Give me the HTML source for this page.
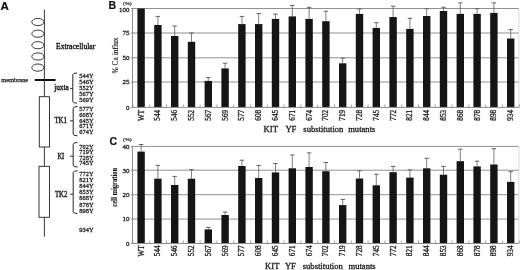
<!DOCTYPE html>
<html><head><meta charset="utf-8">
<style>
html,body{margin:0;padding:0;background:#fff;}
body{width:520px;height:270px;overflow:hidden;}
svg{display:block;will-change:transform;filter:blur(0.3px);}
text{font-family:"Liberation Serif",serif;fill:#1a1a1a;stroke:#1a1a1a;stroke-width:0.28px;}
.lt{font-family:"Liberation Sans",sans-serif;font-weight:bold;font-size:10.5px;fill:#111;stroke-width:0.2px;stroke:#111;}
.yl{font-size:7px;}
.xl{font-size:7.2px;stroke-width:0.3px;}
.xt{font-size:8.6px;stroke-width:0.3px;}
.yt{font-size:7.2px;stroke-width:0.12px;}
.yt2{font-size:7.5px;font-weight:bold;stroke-width:0.1px;}
.pc{font-size:5.0px;stroke-width:0.2px;}
.sm{font-size:6.4px;stroke-width:0.26px;}
.md{font-size:7.6px;stroke-width:0.38px;}
</style></head>
<body>
<svg width="520" height="270" viewBox="0 0 520 270">
<rect width="520" height="270" fill="#fff"/>
<text x="0.6" y="9.6" class="lt" style="font-size:11.5px">A</text>
<line x1="44.4" y1="9.6" x2="44.4" y2="96.7" stroke="#222" stroke-width="0.9"/>
<ellipse cx="37.9" cy="22" rx="6.1" ry="3.6" fill="none" stroke="#222" stroke-width="0.9"/>
<ellipse cx="37.9" cy="33.7" rx="6.1" ry="3.6" fill="none" stroke="#222" stroke-width="0.9"/>
<ellipse cx="37.9" cy="45.2" rx="6.1" ry="3.6" fill="none" stroke="#222" stroke-width="0.9"/>
<ellipse cx="37.9" cy="56.5" rx="6.1" ry="3.6" fill="none" stroke="#222" stroke-width="0.9"/>
<ellipse cx="37.9" cy="67.6" rx="6.1" ry="3.6" fill="none" stroke="#222" stroke-width="0.9"/>
<rect x="34.8" y="79" width="20.8" height="2" fill="#111"/>
<text x="1.2" y="81.6" class="sm" style="stroke-width:0.25px;fill:#1a1a1a">membrane</text>
<text x="56" y="48.8" class="md">Extracellular</text>
<rect x="39.3" y="96.7" width="10.2" height="50.3" fill="none" stroke="#222" stroke-width="0.9"/>
<line x1="44.4" y1="147" x2="44.4" y2="166.3" stroke="#222" stroke-width="0.9"/>
<rect x="39.0" y="166.3" width="10.5" height="51" fill="none" stroke="#222" stroke-width="0.9"/>
<line x1="44.4" y1="217.3" x2="44.4" y2="236.7" stroke="#222" stroke-width="0.9"/>
<text x="54.2" y="89.9" class="md" style="font-size:7.3px">juxta</text>
<text x="54.4" y="123.3" class="md" style="font-size:7.7px" textLength="12.6" lengthAdjust="spacingAndGlyphs">TK1</text>
<text x="57.4" y="158.6" class="md" style="font-size:7.7px" textLength="6.9" lengthAdjust="spacingAndGlyphs">KI</text>
<text x="54.9" y="196.5" class="md" style="font-size:7.7px" textLength="12.6" lengthAdjust="spacingAndGlyphs">TK2</text>
<path d="M77.1,73.0 Q72.8,73.0 72.8,74.8 L72.8,101.4 Q72.8,103.2 77.1,103.2" fill="none" stroke="#1a1a1a" stroke-width="0.95"/>
<line x1="70.0" y1="88.4" x2="72.8" y2="88.4" stroke="#1a1a1a" stroke-width="0.9"/>
<path d="M77.5,106.5 Q73.2,106.5 73.2,108.3 L73.2,134.0 Q73.2,135.8 77.5,135.8" fill="none" stroke="#1a1a1a" stroke-width="0.95"/>
<line x1="70.0" y1="120.8" x2="73.2" y2="120.8" stroke="#1a1a1a" stroke-width="0.9"/>
<path d="M77.5,142.5 Q73.2,142.5 73.2,144.3 L73.2,165.2 Q73.2,167.0 77.5,167.0" fill="none" stroke="#1a1a1a" stroke-width="0.95"/>
<line x1="70.0" y1="156.2" x2="73.2" y2="156.2" stroke="#1a1a1a" stroke-width="0.9"/>
<path d="M77.5,170.8 Q73.2,170.8 73.2,172.60000000000002 L73.2,211.7 Q73.2,213.5 77.5,213.5" fill="none" stroke="#1a1a1a" stroke-width="0.95"/>
<line x1="70.0" y1="194.2" x2="73.2" y2="194.2" stroke="#1a1a1a" stroke-width="0.9"/>
<text x="79.3" y="78.2" class="sm">544Y</text>
<text x="79.3" y="84.2" class="sm">546Y</text>
<text x="79.3" y="90.2" class="sm">552Y</text>
<text x="79.3" y="96.2" class="sm">567Y</text>
<text x="79.3" y="102.2" class="sm">569Y</text>
<text x="79.3" y="111.3" class="sm">577Y</text>
<text x="79.3" y="117.0" class="sm">608Y</text>
<text x="79.3" y="122.7" class="sm">645Y</text>
<text x="79.3" y="128.4" class="sm">671Y</text>
<text x="79.3" y="134.1" class="sm">674Y</text>
<text x="79.3" y="148.8" class="sm">702Y</text>
<text x="79.3" y="154.2" class="sm">719Y</text>
<text x="79.3" y="159.7" class="sm">728Y</text>
<text x="79.3" y="165.1" class="sm">745Y</text>
<text x="79.3" y="176.3" class="sm">772Y</text>
<text x="79.3" y="182.3" class="sm">821Y</text>
<text x="79.3" y="188.4" class="sm">844Y</text>
<text x="79.3" y="194.4" class="sm">853Y</text>
<text x="79.3" y="200.4" class="sm">868Y</text>
<text x="79.3" y="206.5" class="sm">878Y</text>
<text x="79.3" y="212.5" class="sm">898Y</text>
<text x="79.3" y="231.5" class="sm">934Y</text>
<line x1="132.5" y1="8.5" x2="518.8" y2="8.5" stroke="#909090" stroke-width="1"/>
<line x1="132.5" y1="33" x2="518.8" y2="33" stroke="#909090" stroke-width="1"/>
<line x1="132.5" y1="57.8" x2="518.8" y2="57.8" stroke="#909090" stroke-width="1"/>
<line x1="132.5" y1="82" x2="518.8" y2="82" stroke="#909090" stroke-width="1"/>
<line x1="518.8" y1="8.5" x2="518.8" y2="107.4" stroke="#d0d0d0" stroke-width="0.8"/>
<line x1="132.5" y1="8.5" x2="132.5" y2="107.4" stroke="#8c8c8c" stroke-width="1"/>
<line x1="131.0" y1="8.5" x2="133.5" y2="8.5" stroke="#8c8c8c" stroke-width="1"/>
<line x1="131.0" y1="33" x2="133.5" y2="33" stroke="#8c8c8c" stroke-width="1"/>
<line x1="131.0" y1="57.8" x2="133.5" y2="57.8" stroke="#8c8c8c" stroke-width="1"/>
<line x1="131.0" y1="82" x2="133.5" y2="82" stroke="#8c8c8c" stroke-width="1"/>
<line x1="131.0" y1="107.4" x2="133.5" y2="107.4" stroke="#8c8c8c" stroke-width="1"/>
<rect x="137.40" y="8.5" width="7.4" height="98.90" fill="#151515"/>
<line x1="157.90" y1="16.4" x2="157.90" y2="25" stroke="#606060" stroke-width="0.8"/>
<line x1="155.70" y1="16.4" x2="160.10" y2="16.4" stroke="#606060" stroke-width="1"/>
<rect x="154.20" y="25" width="7.4" height="82.40" fill="#151515"/>
<line x1="174.70" y1="26" x2="174.70" y2="36" stroke="#606060" stroke-width="0.8"/>
<line x1="172.50" y1="26" x2="176.90" y2="26" stroke="#606060" stroke-width="1"/>
<rect x="171.00" y="36" width="7.4" height="71.40" fill="#151515"/>
<line x1="191.50" y1="33" x2="191.50" y2="41.8" stroke="#606060" stroke-width="0.8"/>
<line x1="189.30" y1="33" x2="193.70" y2="33" stroke="#606060" stroke-width="1"/>
<rect x="187.80" y="41.8" width="7.4" height="65.60" fill="#151515"/>
<line x1="208.30" y1="77.6" x2="208.30" y2="80.9" stroke="#606060" stroke-width="0.8"/>
<line x1="206.10" y1="77.6" x2="210.50" y2="77.6" stroke="#606060" stroke-width="1"/>
<rect x="204.60" y="80.9" width="7.4" height="26.50" fill="#151515"/>
<line x1="225.10" y1="63.2" x2="225.10" y2="68.4" stroke="#606060" stroke-width="0.8"/>
<line x1="222.90" y1="63.2" x2="227.30" y2="63.2" stroke="#606060" stroke-width="1"/>
<rect x="221.40" y="68.4" width="7.4" height="39.00" fill="#151515"/>
<line x1="241.90" y1="16.4" x2="241.90" y2="24.1" stroke="#606060" stroke-width="0.8"/>
<line x1="239.70" y1="16.4" x2="244.10" y2="16.4" stroke="#606060" stroke-width="1"/>
<rect x="238.20" y="24.1" width="7.4" height="83.30" fill="#151515"/>
<line x1="258.70" y1="13.5" x2="258.70" y2="24.1" stroke="#606060" stroke-width="0.8"/>
<line x1="256.50" y1="13.5" x2="260.90" y2="13.5" stroke="#606060" stroke-width="1"/>
<rect x="255.00" y="24.1" width="7.4" height="83.30" fill="#151515"/>
<line x1="275.50" y1="14.1" x2="275.50" y2="18.9" stroke="#606060" stroke-width="0.8"/>
<line x1="273.30" y1="14.1" x2="277.70" y2="14.1" stroke="#606060" stroke-width="1"/>
<rect x="271.80" y="18.9" width="7.4" height="88.50" fill="#151515"/>
<line x1="292.30" y1="5.4" x2="292.30" y2="16.4" stroke="#606060" stroke-width="0.8"/>
<line x1="290.10" y1="5.4" x2="294.50" y2="5.4" stroke="#606060" stroke-width="1"/>
<rect x="288.60" y="16.4" width="7.4" height="91.00" fill="#151515"/>
<line x1="309.10" y1="7.3" x2="309.10" y2="18.9" stroke="#606060" stroke-width="0.8"/>
<line x1="306.90" y1="7.3" x2="311.30" y2="7.3" stroke="#606060" stroke-width="1"/>
<rect x="305.40" y="18.9" width="7.4" height="88.50" fill="#151515"/>
<line x1="325.90" y1="11.2" x2="325.90" y2="21.2" stroke="#606060" stroke-width="0.8"/>
<line x1="323.70" y1="11.2" x2="328.10" y2="11.2" stroke="#606060" stroke-width="1"/>
<rect x="322.20" y="21.2" width="7.4" height="86.20" fill="#151515"/>
<line x1="342.70" y1="58.1" x2="342.70" y2="63.3" stroke="#606060" stroke-width="0.8"/>
<line x1="340.50" y1="58.1" x2="344.90" y2="58.1" stroke="#606060" stroke-width="1"/>
<rect x="339.00" y="63.3" width="7.4" height="44.10" fill="#151515"/>
<line x1="359.50" y1="9" x2="359.50" y2="13.9" stroke="#606060" stroke-width="0.8"/>
<line x1="357.30" y1="9" x2="361.70" y2="9" stroke="#606060" stroke-width="1"/>
<rect x="355.80" y="13.9" width="7.4" height="93.50" fill="#151515"/>
<line x1="376.30" y1="22.7" x2="376.30" y2="27.9" stroke="#606060" stroke-width="0.8"/>
<line x1="374.10" y1="22.7" x2="378.50" y2="22.7" stroke="#606060" stroke-width="1"/>
<rect x="372.60" y="27.9" width="7.4" height="79.50" fill="#151515"/>
<line x1="393.10" y1="6.2" x2="393.10" y2="17" stroke="#606060" stroke-width="0.8"/>
<line x1="390.90" y1="6.2" x2="395.30" y2="6.2" stroke="#606060" stroke-width="1"/>
<rect x="389.40" y="17" width="7.4" height="90.40" fill="#151515"/>
<line x1="409.90" y1="18.3" x2="409.90" y2="28.9" stroke="#606060" stroke-width="0.8"/>
<line x1="407.70" y1="18.3" x2="412.10" y2="18.3" stroke="#606060" stroke-width="1"/>
<rect x="406.20" y="28.9" width="7.4" height="78.50" fill="#151515"/>
<line x1="426.70" y1="8.7" x2="426.70" y2="16" stroke="#606060" stroke-width="0.8"/>
<line x1="424.50" y1="8.7" x2="428.90" y2="8.7" stroke="#606060" stroke-width="1"/>
<rect x="423.00" y="16" width="7.4" height="91.40" fill="#151515"/>
<line x1="443.50" y1="7.3" x2="443.50" y2="11" stroke="#606060" stroke-width="0.8"/>
<line x1="441.30" y1="7.3" x2="445.70" y2="7.3" stroke="#606060" stroke-width="1"/>
<rect x="439.80" y="11" width="7.4" height="96.40" fill="#151515"/>
<line x1="460.30" y1="2.9" x2="460.30" y2="13.9" stroke="#606060" stroke-width="0.8"/>
<line x1="458.10" y1="2.9" x2="462.50" y2="2.9" stroke="#606060" stroke-width="1"/>
<rect x="456.60" y="13.9" width="7.4" height="93.50" fill="#151515"/>
<line x1="477.10" y1="8.7" x2="477.10" y2="13.9" stroke="#606060" stroke-width="0.8"/>
<line x1="474.90" y1="8.7" x2="479.30" y2="8.7" stroke="#606060" stroke-width="1"/>
<rect x="473.40" y="13.9" width="7.4" height="93.50" fill="#151515"/>
<line x1="493.90" y1="2.9" x2="493.90" y2="12.9" stroke="#606060" stroke-width="0.8"/>
<line x1="491.70" y1="2.9" x2="496.10" y2="2.9" stroke="#606060" stroke-width="1"/>
<rect x="490.20" y="12.9" width="7.4" height="94.50" fill="#151515"/>
<line x1="510.70" y1="29.6" x2="510.70" y2="38.5" stroke="#606060" stroke-width="0.8"/>
<line x1="508.50" y1="29.6" x2="512.90" y2="29.6" stroke="#606060" stroke-width="1"/>
<rect x="507.00" y="38.5" width="7.4" height="68.90" fill="#151515"/>
<line x1="132.5" y1="107.4" x2="518.8" y2="107.4" stroke="#8c8c8c" stroke-width="1"/>
<line x1="132.90" y1="104.4" x2="132.90" y2="107.4" stroke="#8c8c8c" stroke-width="0.8"/>
<line x1="149.70" y1="104.4" x2="149.70" y2="107.4" stroke="#8c8c8c" stroke-width="0.8"/>
<line x1="166.50" y1="104.4" x2="166.50" y2="107.4" stroke="#8c8c8c" stroke-width="0.8"/>
<line x1="183.30" y1="104.4" x2="183.30" y2="107.4" stroke="#8c8c8c" stroke-width="0.8"/>
<line x1="200.10" y1="104.4" x2="200.10" y2="107.4" stroke="#8c8c8c" stroke-width="0.8"/>
<line x1="216.90" y1="104.4" x2="216.90" y2="107.4" stroke="#8c8c8c" stroke-width="0.8"/>
<line x1="233.70" y1="104.4" x2="233.70" y2="107.4" stroke="#8c8c8c" stroke-width="0.8"/>
<line x1="250.50" y1="104.4" x2="250.50" y2="107.4" stroke="#8c8c8c" stroke-width="0.8"/>
<line x1="267.30" y1="104.4" x2="267.30" y2="107.4" stroke="#8c8c8c" stroke-width="0.8"/>
<line x1="284.10" y1="104.4" x2="284.10" y2="107.4" stroke="#8c8c8c" stroke-width="0.8"/>
<line x1="300.90" y1="104.4" x2="300.90" y2="107.4" stroke="#8c8c8c" stroke-width="0.8"/>
<line x1="317.70" y1="104.4" x2="317.70" y2="107.4" stroke="#8c8c8c" stroke-width="0.8"/>
<line x1="334.50" y1="104.4" x2="334.50" y2="107.4" stroke="#8c8c8c" stroke-width="0.8"/>
<line x1="351.30" y1="104.4" x2="351.30" y2="107.4" stroke="#8c8c8c" stroke-width="0.8"/>
<line x1="368.10" y1="104.4" x2="368.10" y2="107.4" stroke="#8c8c8c" stroke-width="0.8"/>
<line x1="384.90" y1="104.4" x2="384.90" y2="107.4" stroke="#8c8c8c" stroke-width="0.8"/>
<line x1="401.70" y1="104.4" x2="401.70" y2="107.4" stroke="#8c8c8c" stroke-width="0.8"/>
<line x1="418.50" y1="104.4" x2="418.50" y2="107.4" stroke="#8c8c8c" stroke-width="0.8"/>
<line x1="435.30" y1="104.4" x2="435.30" y2="107.4" stroke="#8c8c8c" stroke-width="0.8"/>
<line x1="452.10" y1="104.4" x2="452.10" y2="107.4" stroke="#8c8c8c" stroke-width="0.8"/>
<line x1="468.90" y1="104.4" x2="468.90" y2="107.4" stroke="#8c8c8c" stroke-width="0.8"/>
<line x1="485.70" y1="104.4" x2="485.70" y2="107.4" stroke="#8c8c8c" stroke-width="0.8"/>
<line x1="502.50" y1="104.4" x2="502.50" y2="107.4" stroke="#8c8c8c" stroke-width="0.8"/>
<line x1="519.30" y1="104.4" x2="519.30" y2="107.4" stroke="#8c8c8c" stroke-width="0.8"/>
<text x="129.4" y="12.0" text-anchor="end" class="yl">100</text>
<text x="129.4" y="35.3" text-anchor="end" class="yl">75</text>
<text x="129.4" y="60.1" text-anchor="end" class="yl">50</text>
<text x="129.4" y="84.3" text-anchor="end" class="yl">25</text>
<text x="129.4" y="109.7" text-anchor="end" class="yl">0</text>
<text x="0" y="0" text-anchor="end" transform="translate(143.50 109.9) rotate(-90)" class="xl">WT</text>
<text x="0" y="0" text-anchor="end" transform="translate(160.30 109.9) rotate(-90)" class="xl">544</text>
<text x="0" y="0" text-anchor="end" transform="translate(177.10 109.9) rotate(-90)" class="xl">546</text>
<text x="0" y="0" text-anchor="end" transform="translate(193.90 109.9) rotate(-90)" class="xl">552</text>
<text x="0" y="0" text-anchor="end" transform="translate(210.70 109.9) rotate(-90)" class="xl">567</text>
<text x="0" y="0" text-anchor="end" transform="translate(227.50 109.9) rotate(-90)" class="xl">569</text>
<text x="0" y="0" text-anchor="end" transform="translate(244.30 109.9) rotate(-90)" class="xl">577</text>
<text x="0" y="0" text-anchor="end" transform="translate(261.10 109.9) rotate(-90)" class="xl">608</text>
<text x="0" y="0" text-anchor="end" transform="translate(277.90 109.9) rotate(-90)" class="xl">645</text>
<text x="0" y="0" text-anchor="end" transform="translate(294.70 109.9) rotate(-90)" class="xl">671</text>
<text x="0" y="0" text-anchor="end" transform="translate(311.50 109.9) rotate(-90)" class="xl">674</text>
<text x="0" y="0" text-anchor="end" transform="translate(328.30 109.9) rotate(-90)" class="xl">702</text>
<text x="0" y="0" text-anchor="end" transform="translate(345.10 109.9) rotate(-90)" class="xl">719</text>
<text x="0" y="0" text-anchor="end" transform="translate(361.90 109.9) rotate(-90)" class="xl">728</text>
<text x="0" y="0" text-anchor="end" transform="translate(378.70 109.9) rotate(-90)" class="xl">745</text>
<text x="0" y="0" text-anchor="end" transform="translate(395.50 109.9) rotate(-90)" class="xl">772</text>
<text x="0" y="0" text-anchor="end" transform="translate(412.30 109.9) rotate(-90)" class="xl">821</text>
<text x="0" y="0" text-anchor="end" transform="translate(429.10 109.9) rotate(-90)" class="xl">844</text>
<text x="0" y="0" text-anchor="end" transform="translate(445.90 109.9) rotate(-90)" class="xl">853</text>
<text x="0" y="0" text-anchor="end" transform="translate(462.70 109.9) rotate(-90)" class="xl">868</text>
<text x="0" y="0" text-anchor="end" transform="translate(479.50 109.9) rotate(-90)" class="xl">878</text>
<text x="0" y="0" text-anchor="end" transform="translate(496.30 109.9) rotate(-90)" class="xl">898</text>
<text x="0" y="0" text-anchor="end" transform="translate(513.10 109.9) rotate(-90)" class="xl">934</text>
<text x="263.6" y="132.4" class="xt">KIT</text>
<text x="285.4" y="132.4" class="xt">YF</text>
<text x="303.3" y="132.4" class="xt">substitution</text>
<text x="348.2" y="132.4" class="xt">mutants</text>
<text x="118.2" y="55.45" text-anchor="middle" transform="rotate(-90 118.2 55.45)" class="yt" textLength="36" lengthAdjust="spacingAndGlyphs">% Ca influx</text>
<text x="108.6" y="8.7" class="lt">B</text>
<text x="123.0" y="4.9" class="pc" textLength="8.8" lengthAdjust="spacingAndGlyphs">(%)</text>
<line x1="132.5" y1="146.4" x2="518.8" y2="146.4" stroke="#909090" stroke-width="1"/>
<line x1="132.5" y1="170.2" x2="518.8" y2="170.2" stroke="#909090" stroke-width="1"/>
<line x1="132.5" y1="194.7" x2="518.8" y2="194.7" stroke="#909090" stroke-width="1"/>
<line x1="132.5" y1="219.1" x2="518.8" y2="219.1" stroke="#909090" stroke-width="1"/>
<line x1="518.8" y1="146.4" x2="518.8" y2="243.5" stroke="#d0d0d0" stroke-width="0.8"/>
<line x1="132.5" y1="146.4" x2="132.5" y2="243.5" stroke="#8c8c8c" stroke-width="1"/>
<line x1="131.0" y1="146.4" x2="133.5" y2="146.4" stroke="#8c8c8c" stroke-width="1"/>
<line x1="131.0" y1="170.2" x2="133.5" y2="170.2" stroke="#8c8c8c" stroke-width="1"/>
<line x1="131.0" y1="194.7" x2="133.5" y2="194.7" stroke="#8c8c8c" stroke-width="1"/>
<line x1="131.0" y1="219.1" x2="133.5" y2="219.1" stroke="#8c8c8c" stroke-width="1"/>
<line x1="131.0" y1="243.5" x2="133.5" y2="243.5" stroke="#8c8c8c" stroke-width="1"/>
<line x1="141.10" y1="144.5" x2="141.10" y2="151.6" stroke="#606060" stroke-width="0.8"/>
<line x1="138.90" y1="144.5" x2="143.30" y2="144.5" stroke="#606060" stroke-width="1"/>
<rect x="137.40" y="151.6" width="7.4" height="91.90" fill="#151515"/>
<line x1="157.90" y1="165.4" x2="157.90" y2="178.7" stroke="#606060" stroke-width="0.8"/>
<line x1="155.70" y1="165.4" x2="160.10" y2="165.4" stroke="#606060" stroke-width="1"/>
<rect x="154.20" y="178.7" width="7.4" height="64.80" fill="#151515"/>
<line x1="174.70" y1="176.4" x2="174.70" y2="185" stroke="#606060" stroke-width="0.8"/>
<line x1="172.50" y1="176.4" x2="176.90" y2="176.4" stroke="#606060" stroke-width="1"/>
<rect x="171.00" y="185" width="7.4" height="58.50" fill="#151515"/>
<line x1="191.50" y1="169.6" x2="191.50" y2="178.7" stroke="#606060" stroke-width="0.8"/>
<line x1="189.30" y1="169.6" x2="193.70" y2="169.6" stroke="#606060" stroke-width="1"/>
<rect x="187.80" y="178.7" width="7.4" height="64.80" fill="#151515"/>
<line x1="208.30" y1="227.4" x2="208.30" y2="229.4" stroke="#606060" stroke-width="0.8"/>
<line x1="206.10" y1="227.4" x2="210.50" y2="227.4" stroke="#606060" stroke-width="1"/>
<rect x="204.60" y="229.4" width="7.4" height="14.10" fill="#151515"/>
<line x1="225.10" y1="212" x2="225.10" y2="215" stroke="#606060" stroke-width="0.8"/>
<line x1="222.90" y1="212" x2="227.30" y2="212" stroke="#606060" stroke-width="1"/>
<rect x="221.40" y="215" width="7.4" height="28.50" fill="#151515"/>
<line x1="241.90" y1="160.2" x2="241.90" y2="166" stroke="#606060" stroke-width="0.8"/>
<line x1="239.70" y1="160.2" x2="244.10" y2="160.2" stroke="#606060" stroke-width="1"/>
<rect x="238.20" y="166" width="7.4" height="77.50" fill="#151515"/>
<line x1="258.70" y1="165.4" x2="258.70" y2="178" stroke="#606060" stroke-width="0.8"/>
<line x1="256.50" y1="165.4" x2="260.90" y2="165.4" stroke="#606060" stroke-width="1"/>
<rect x="255.00" y="178" width="7.4" height="65.50" fill="#151515"/>
<line x1="275.50" y1="163.5" x2="275.50" y2="172.4" stroke="#606060" stroke-width="0.8"/>
<line x1="273.30" y1="163.5" x2="277.70" y2="163.5" stroke="#606060" stroke-width="1"/>
<rect x="271.80" y="172.4" width="7.4" height="71.10" fill="#151515"/>
<line x1="292.30" y1="155" x2="292.30" y2="168.3" stroke="#606060" stroke-width="0.8"/>
<line x1="290.10" y1="155" x2="294.50" y2="155" stroke="#606060" stroke-width="1"/>
<rect x="288.60" y="168.3" width="7.4" height="75.20" fill="#151515"/>
<line x1="309.10" y1="152.9" x2="309.10" y2="167" stroke="#606060" stroke-width="0.8"/>
<line x1="306.90" y1="152.9" x2="311.30" y2="152.9" stroke="#606060" stroke-width="1"/>
<rect x="305.40" y="167" width="7.4" height="76.50" fill="#151515"/>
<line x1="325.90" y1="162.5" x2="325.90" y2="171.2" stroke="#606060" stroke-width="0.8"/>
<line x1="323.70" y1="162.5" x2="328.10" y2="162.5" stroke="#606060" stroke-width="1"/>
<rect x="322.20" y="171.2" width="7.4" height="72.30" fill="#151515"/>
<line x1="342.70" y1="199.4" x2="342.70" y2="205.1" stroke="#606060" stroke-width="0.8"/>
<line x1="340.50" y1="199.4" x2="344.90" y2="199.4" stroke="#606060" stroke-width="1"/>
<rect x="339.00" y="205.1" width="7.4" height="38.40" fill="#151515"/>
<line x1="359.50" y1="170.8" x2="359.50" y2="178.5" stroke="#606060" stroke-width="0.8"/>
<line x1="357.30" y1="170.8" x2="361.70" y2="170.8" stroke="#606060" stroke-width="1"/>
<rect x="355.80" y="178.5" width="7.4" height="65.00" fill="#151515"/>
<line x1="376.30" y1="174.3" x2="376.30" y2="185.3" stroke="#606060" stroke-width="0.8"/>
<line x1="374.10" y1="174.3" x2="378.50" y2="174.3" stroke="#606060" stroke-width="1"/>
<rect x="372.60" y="185.3" width="7.4" height="58.20" fill="#151515"/>
<line x1="393.10" y1="166.4" x2="393.10" y2="172.2" stroke="#606060" stroke-width="0.8"/>
<line x1="390.90" y1="166.4" x2="395.30" y2="166.4" stroke="#606060" stroke-width="1"/>
<rect x="389.40" y="172.2" width="7.4" height="71.30" fill="#151515"/>
<line x1="409.90" y1="169.9" x2="409.90" y2="177.6" stroke="#606060" stroke-width="0.8"/>
<line x1="407.70" y1="169.9" x2="412.10" y2="169.9" stroke="#606060" stroke-width="1"/>
<rect x="406.20" y="177.6" width="7.4" height="65.90" fill="#151515"/>
<line x1="426.70" y1="158.3" x2="426.70" y2="168.3" stroke="#606060" stroke-width="0.8"/>
<line x1="424.50" y1="158.3" x2="428.90" y2="158.3" stroke="#606060" stroke-width="1"/>
<rect x="423.00" y="168.3" width="7.4" height="75.20" fill="#151515"/>
<line x1="443.50" y1="166.4" x2="443.50" y2="174.7" stroke="#606060" stroke-width="0.8"/>
<line x1="441.30" y1="166.4" x2="445.70" y2="166.4" stroke="#606060" stroke-width="1"/>
<rect x="439.80" y="174.7" width="7.4" height="68.80" fill="#151515"/>
<line x1="460.30" y1="149.2" x2="460.30" y2="161.2" stroke="#606060" stroke-width="0.8"/>
<line x1="458.10" y1="149.2" x2="462.50" y2="149.2" stroke="#606060" stroke-width="1"/>
<rect x="456.60" y="161.2" width="7.4" height="82.30" fill="#151515"/>
<line x1="477.10" y1="161.2" x2="477.10" y2="166.4" stroke="#606060" stroke-width="0.8"/>
<line x1="474.90" y1="161.2" x2="479.30" y2="161.2" stroke="#606060" stroke-width="1"/>
<rect x="473.40" y="166.4" width="7.4" height="77.10" fill="#151515"/>
<line x1="493.90" y1="148.7" x2="493.90" y2="164.5" stroke="#606060" stroke-width="0.8"/>
<line x1="491.70" y1="148.7" x2="496.10" y2="148.7" stroke="#606060" stroke-width="1"/>
<rect x="490.20" y="164.5" width="7.4" height="79.00" fill="#151515"/>
<line x1="510.70" y1="171.6" x2="510.70" y2="181.9" stroke="#606060" stroke-width="0.8"/>
<line x1="508.50" y1="171.6" x2="512.90" y2="171.6" stroke="#606060" stroke-width="1"/>
<rect x="507.00" y="181.9" width="7.4" height="61.60" fill="#151515"/>
<line x1="132.5" y1="243.5" x2="518.8" y2="243.5" stroke="#8c8c8c" stroke-width="1"/>
<line x1="132.90" y1="240.5" x2="132.90" y2="243.5" stroke="#8c8c8c" stroke-width="0.8"/>
<line x1="149.70" y1="240.5" x2="149.70" y2="243.5" stroke="#8c8c8c" stroke-width="0.8"/>
<line x1="166.50" y1="240.5" x2="166.50" y2="243.5" stroke="#8c8c8c" stroke-width="0.8"/>
<line x1="183.30" y1="240.5" x2="183.30" y2="243.5" stroke="#8c8c8c" stroke-width="0.8"/>
<line x1="200.10" y1="240.5" x2="200.10" y2="243.5" stroke="#8c8c8c" stroke-width="0.8"/>
<line x1="216.90" y1="240.5" x2="216.90" y2="243.5" stroke="#8c8c8c" stroke-width="0.8"/>
<line x1="233.70" y1="240.5" x2="233.70" y2="243.5" stroke="#8c8c8c" stroke-width="0.8"/>
<line x1="250.50" y1="240.5" x2="250.50" y2="243.5" stroke="#8c8c8c" stroke-width="0.8"/>
<line x1="267.30" y1="240.5" x2="267.30" y2="243.5" stroke="#8c8c8c" stroke-width="0.8"/>
<line x1="284.10" y1="240.5" x2="284.10" y2="243.5" stroke="#8c8c8c" stroke-width="0.8"/>
<line x1="300.90" y1="240.5" x2="300.90" y2="243.5" stroke="#8c8c8c" stroke-width="0.8"/>
<line x1="317.70" y1="240.5" x2="317.70" y2="243.5" stroke="#8c8c8c" stroke-width="0.8"/>
<line x1="334.50" y1="240.5" x2="334.50" y2="243.5" stroke="#8c8c8c" stroke-width="0.8"/>
<line x1="351.30" y1="240.5" x2="351.30" y2="243.5" stroke="#8c8c8c" stroke-width="0.8"/>
<line x1="368.10" y1="240.5" x2="368.10" y2="243.5" stroke="#8c8c8c" stroke-width="0.8"/>
<line x1="384.90" y1="240.5" x2="384.90" y2="243.5" stroke="#8c8c8c" stroke-width="0.8"/>
<line x1="401.70" y1="240.5" x2="401.70" y2="243.5" stroke="#8c8c8c" stroke-width="0.8"/>
<line x1="418.50" y1="240.5" x2="418.50" y2="243.5" stroke="#8c8c8c" stroke-width="0.8"/>
<line x1="435.30" y1="240.5" x2="435.30" y2="243.5" stroke="#8c8c8c" stroke-width="0.8"/>
<line x1="452.10" y1="240.5" x2="452.10" y2="243.5" stroke="#8c8c8c" stroke-width="0.8"/>
<line x1="468.90" y1="240.5" x2="468.90" y2="243.5" stroke="#8c8c8c" stroke-width="0.8"/>
<line x1="485.70" y1="240.5" x2="485.70" y2="243.5" stroke="#8c8c8c" stroke-width="0.8"/>
<line x1="502.50" y1="240.5" x2="502.50" y2="243.5" stroke="#8c8c8c" stroke-width="0.8"/>
<line x1="519.30" y1="240.5" x2="519.30" y2="243.5" stroke="#8c8c8c" stroke-width="0.8"/>
<text x="129.4" y="148.7" text-anchor="end" class="yl">40</text>
<text x="129.4" y="172.5" text-anchor="end" class="yl">30</text>
<text x="129.4" y="197.0" text-anchor="end" class="yl">20</text>
<text x="129.4" y="221.4" text-anchor="end" class="yl">10</text>
<text x="129.4" y="245.8" text-anchor="end" class="yl">0</text>
<text x="0" y="0" text-anchor="end" transform="translate(143.50 245.4) rotate(-90)" class="xl">WT</text>
<text x="0" y="0" text-anchor="end" transform="translate(160.30 245.4) rotate(-90)" class="xl">544</text>
<text x="0" y="0" text-anchor="end" transform="translate(177.10 245.4) rotate(-90)" class="xl">546</text>
<text x="0" y="0" text-anchor="end" transform="translate(193.90 245.4) rotate(-90)" class="xl">552</text>
<text x="0" y="0" text-anchor="end" transform="translate(210.70 245.4) rotate(-90)" class="xl">567</text>
<text x="0" y="0" text-anchor="end" transform="translate(227.50 245.4) rotate(-90)" class="xl">569</text>
<text x="0" y="0" text-anchor="end" transform="translate(244.30 245.4) rotate(-90)" class="xl">577</text>
<text x="0" y="0" text-anchor="end" transform="translate(261.10 245.4) rotate(-90)" class="xl">608</text>
<text x="0" y="0" text-anchor="end" transform="translate(277.90 245.4) rotate(-90)" class="xl">645</text>
<text x="0" y="0" text-anchor="end" transform="translate(294.70 245.4) rotate(-90)" class="xl">671</text>
<text x="0" y="0" text-anchor="end" transform="translate(311.50 245.4) rotate(-90)" class="xl">674</text>
<text x="0" y="0" text-anchor="end" transform="translate(328.30 245.4) rotate(-90)" class="xl">702</text>
<text x="0" y="0" text-anchor="end" transform="translate(345.10 245.4) rotate(-90)" class="xl">719</text>
<text x="0" y="0" text-anchor="end" transform="translate(361.90 245.4) rotate(-90)" class="xl">728</text>
<text x="0" y="0" text-anchor="end" transform="translate(378.70 245.4) rotate(-90)" class="xl">745</text>
<text x="0" y="0" text-anchor="end" transform="translate(395.50 245.4) rotate(-90)" class="xl">772</text>
<text x="0" y="0" text-anchor="end" transform="translate(412.30 245.4) rotate(-90)" class="xl">821</text>
<text x="0" y="0" text-anchor="end" transform="translate(429.10 245.4) rotate(-90)" class="xl">844</text>
<text x="0" y="0" text-anchor="end" transform="translate(445.90 245.4) rotate(-90)" class="xl">853</text>
<text x="0" y="0" text-anchor="end" transform="translate(462.70 245.4) rotate(-90)" class="xl">868</text>
<text x="0" y="0" text-anchor="end" transform="translate(479.50 245.4) rotate(-90)" class="xl">878</text>
<text x="0" y="0" text-anchor="end" transform="translate(496.30 245.4) rotate(-90)" class="xl">898</text>
<text x="0" y="0" text-anchor="end" transform="translate(513.10 245.4) rotate(-90)" class="xl">934</text>
<text x="265.1" y="268.5" class="xt">KIT</text>
<text x="284.9" y="268.5" class="xt">YF</text>
<text x="302.7" y="268.5" class="xt">substitution</text>
<text x="348.5" y="268.5" class="xt">mutants</text>
<text x="117.3" y="187.25" text-anchor="middle" transform="rotate(-90 117.3 187.25)" class="yt2" textLength="39" lengthAdjust="spacingAndGlyphs">cell migration</text>
<text x="109.5" y="145.1" class="lt">C</text>
<text x="123.0" y="141.1" class="pc" textLength="8.8" lengthAdjust="spacingAndGlyphs">(%)</text>
</svg>
</body></html>
